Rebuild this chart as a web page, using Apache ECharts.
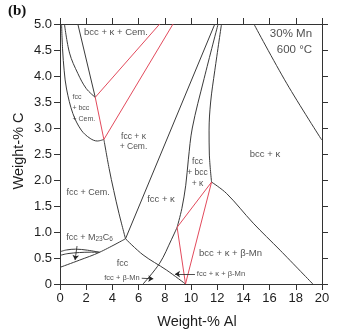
<!DOCTYPE html>
<html>
<head>
<meta charset="utf-8">
<script src="https://cdn.jsdelivr.net/npm/echarts@6/dist/echarts.min.js"></script>
<style>
  html, body { margin: 0; padding: 0; background: #fff; }
  #chart { width: 339px; height: 332px; }
</style>
</head>
<body>
<div id="chart"></div>
<script>
// Isothermal section Fe-30Mn-Al-C at 600 °C: phase boundaries in (wt-% Al, wt-% C)

const xTickLabels = ['0', '2', '4', '6', '8', '10', '12', '14', '16', '18', '20'];
const yTickLabels = ['0', '0.5', '1.0', '1.5', '2.0', '2.5', '3.0', '3.5', '4.0', '4.5', '5.0'];

// black phase boundaries
const fccBccCemLower = [[0.12, 5.0], [0.2, 4.5], [0.32, 4.1], [0.5, 3.75], [0.98, 3.28], [1.62, 2.96], [2.3, 2.8], [2.85, 2.75], [3.35, 2.78]];
const fccBccCemUpper = [[0.34, 5.0], [0.73, 4.44], [1.36, 4.05], [2.0, 3.76], [2.69, 3.59]];
const bccKappaCemLeft = [[1.36, 5.0], [2.69, 3.59]];
const fccCemRight = [[3.35, 2.78], [3.75, 2.22], [4.1, 1.8], [4.5, 1.36], [5.0, 0.87]];
const fccKappaLeft = [[11.82, 5.0], [5.0, 0.87]];
const fccBccKappaLeft = [[12.07, 5.0], [11.0, 3.95], [10.1, 3.0], [9.8, 2.4], [9.6, 1.9], [9.3, 1.45], [8.94, 1.09]];
const fccBccKappaRight = [[12.33, 5.0], [11.82, 4.11], [11.5, 3.5], [11.38, 2.96], [11.4, 2.5], [11.57, 1.96]];
const bccKappaRight = [[14.8, 5.0], [17.3, 3.86], [19.98, 2.77]];
const bccKappaBetaMn = [[11.57, 1.96], [12.72, 1.74], [14.75, 1.17], [16.8, 0.65], [19.3, 0]];
const fccLowerLeft = [[0, 0.32], [1.5, 0.46], [3.02, 0.61], [5.0, 0.87]];
const fccLowerRight = [[5.0, 0.87], [6.34, 0.56], [8.12, 0.27], [9.58, 0]];
const fccBetaMn = [[6.34, 0], [7.61, 0.4], [8.5, 0.85], [8.94, 1.09]];
const m23c6Upper = [[0, 0.62], [0.5, 0.655], [1.2, 0.67], [2.1, 0.65], [3.02, 0.61]];
const m23c6Lower = [[0, 0.55], [0.6, 0.585], [1.5, 0.605], [2.3, 0.612], [3.02, 0.61]];

// red tie lines of the three-phase triangles
const tieLines = [
  [[2.69, 3.59], [7.61, 5.0]],
  [[3.35, 2.78], [8.63, 5.0]],
  [[2.69, 3.59], [3.35, 2.78]],
  [[11.57, 1.96], [8.94, 1.09]],
  [[8.94, 1.09], [9.58, 0]],
  [[11.57, 1.96], [9.58, 0]]
];

// region names and their anchor points (wt-% Al, wt-% C)
const regionNames = [
  'bcc + κ + Cem.', 'fcc\n+ bcc\n+ Cem.', 'fcc + κ\n+ Cem.', 'fcc + Cem.', 'fcc + κ',
  'fcc\n+ bcc\n+ κ', 'bcc + κ', 'bcc + κ + β-Mn', 'fcc', 'fcc + M23C6',
  'fcc + β-Mn', 'fcc + κ + β-Mn', '30% Mn\n600 °C'
];
const regionAnchors = [
  [4.27, 4.83], [0.95, 3.39], [5.61, 2.74], [2.14, 1.75], [7.71, 1.62],
  [10.5, 2.14], [15.65, 2.5], [13.02, 0.59], [4.77, 0.40], [2.25, 0.9],
  [4.73, 0.11], [12.29, 0.19], [19.24, 4.65]
];

// pointer arrows from small labels to their regions
const pointerArrows = [
  [[1.3, 0.73], [1.15, 0.46]],
  [[6.24, 0.11], [7.12, 0.1]],
  [[10.3, 0.19], [8.78, 0.19]]
];

const FONT = '"Liberation Sans", Arial, Helvetica, sans-serif';
const LINE = '#3a3a3a';
const RED = '#e24a5c';
const TEXT = '#1e1e1e';

const chart = echarts.init(document.getElementById('chart'), null, { renderer: 'canvas' });

function boundary(points, smooth) {
  return {
    type: 'line', data: points, smooth: smooth ? 0.35 : false,
    showSymbol: false, symbol: 'none', silent: true,
    lineStyle: { color: LINE, width: 1 }, z: 3
  };
}

const series = [
  boundary(fccBccCemLower, true),
  boundary(fccBccCemUpper, true),
  boundary(bccKappaCemLeft, false),
  boundary(fccCemRight, true),
  boundary(fccKappaLeft, false),
  boundary(fccBccKappaLeft, true),
  boundary(fccBccKappaRight, true),
  boundary(bccKappaRight, true),
  boundary(bccKappaBetaMn, true),
  boundary(fccLowerLeft, true),
  boundary(fccLowerRight, true),
  boundary(fccBetaMn, true),
  boundary(m23c6Upper, true),
  boundary(m23c6Lower, true)
];

tieLines.forEach(seg => {
  series.push({
    type: 'line', data: seg, showSymbol: false, symbol: 'none', silent: true,
    lineStyle: { color: RED, width: 1 }, z: 4
  });
});

series.push({
  type: 'lines', coordinateSystem: 'cartesian2d', silent: true,
  symbol: ['none', 'arrow'], symbolSize: 5,
  lineStyle: { color: '#222', width: 0.8, opacity: 1 },
  data: pointerArrows.map(c => ({ coords: c })), z: 5
});

// label appearance per region
const labelLook = {
  'bcc + κ + Cem.': { fontSize: 9.5 },
  'fcc\n+ bcc\n+ Cem.': { fontSize: 7, lineHeight: 11, position: 'right' },
  'fcc + κ\n+ Cem.': { fontSize: 8.5, lineHeight: 9.5 },
  'fcc + Cem.': { fontSize: 9 },
  'fcc + κ': { fontSize: 9.5 },
  'fcc\n+ bcc\n+ κ': { fontSize: 8.5, lineHeight: 11 },
  'bcc + κ': { fontSize: 9.5 },
  'bcc + κ + β-Mn': { fontSize: 9.5 },
  'fcc': { fontSize: 9 },
  'fcc + M23C6': { fontSize: 9 },
  'fcc + β-Mn': { fontSize: 7.5 },
  'fcc + κ + β-Mn': { fontSize: 7.6 },
  '30% Mn\n600 °C': { fontSize: 11.5, lineHeight: 16, position: 'left' }
};

series.push({
  type: 'scatter', symbolSize: 0, silent: true, z: 6,
  data: regionNames.map((name, i) => {
    const look = labelLook[name];
    const label = {
      show: true, position: look.position || 'inside', distance: 0,
      color: TEXT, fontFamily: FONT, fontSize: look.fontSize,
      lineHeight: look.lineHeight || Math.round(look.fontSize * 1.2),
      formatter: name
    };
    if (name === 'fcc + M23C6') {
      label.formatter = '{n|fcc + M}{s|23}{n|C}{s|6}';
      label.rich = {
        n: { fontSize: 9, lineHeight: 12, fontFamily: FONT, color: TEXT, verticalAlign: 'middle' },
        s: { fontSize: 6.5, lineHeight: 12, fontFamily: FONT, color: TEXT, verticalAlign: 'bottom' }
      };
    }
    return { value: regionAnchors[i], label: label };
  })
});

const axisLineStyle = { color: '#333', width: 1 };

function xAxisOf(pos, labels) {
  return {
    type: 'value', position: pos, min: 0, max: 20, interval: 2,
    axisLine: { show: true, onZero: false, lineStyle: axisLineStyle },
    axisTick: { show: true, length: 6, lineStyle: axisLineStyle },
    axisLabel: {
      show: labels, fontSize: 13, color: TEXT, fontFamily: FONT, margin: 8,
      formatter: v => xTickLabels[Math.round(v / 2)]
    },
    splitLine: { show: false }
  };
}

function yAxisOf(pos, labels) {
  return {
    type: 'value', position: pos, min: 0, max: 5, interval: 0.5,
    axisLine: { show: true, onZero: false, lineStyle: axisLineStyle },
    axisTick: { show: true, length: 6, lineStyle: axisLineStyle },
    axisLabel: {
      show: labels, fontSize: 13, color: TEXT, fontFamily: FONT, margin: 8,
      formatter: v => yTickLabels[Math.round(v / 0.5)]
    },
    splitLine: { show: false }
  };
}

chart.setOption({
  animation: false,
  backgroundColor: '#fff',
  grid: { left: 60, top: 24, width: 262, height: 260, containLabel: false },
  xAxis: [xAxisOf('bottom', true), xAxisOf('top', false)],
  yAxis: [yAxisOf('left', true), yAxisOf('right', false)],
  series: series,
  graphic: [
    {
      type: 'text', left: 8, top: 4,
      style: { text: '(b)', font: 'bold 15px "Liberation Serif", "Times New Roman", serif', fill: '#111' }
    },
    {
      type: 'text', x: 19, y: 151, rotation: Math.PI / 2,
      style: {
        text: 'Weight-% C', font: '14.5px ' + FONT, fill: TEXT,
        textAlign: 'center', textVerticalAlign: 'middle', align: 'center', verticalAlign: 'middle'
      }
    },
    {
      type: 'text', x: 197, y: 322,
      style: {
        text: 'Weight-% Al', font: '14.5px ' + FONT, fill: TEXT,
        textAlign: 'center', textVerticalAlign: 'middle', align: 'center', verticalAlign: 'middle'
      }
    }
  ]
});
</script>
</body>
</html>
